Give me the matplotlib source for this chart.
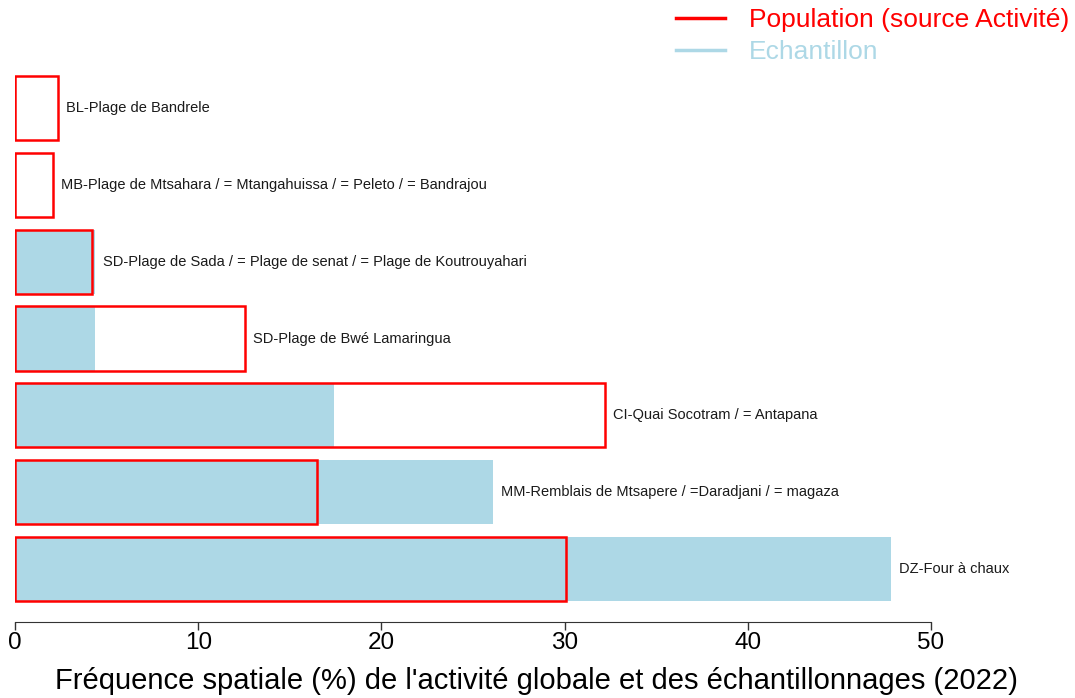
import matplotlib
matplotlib.use("Agg")
import matplotlib.pyplot as plt
from matplotlib.lines import Line2D

plt.rcParams['font.family'] = ['Liberation Sans', 'DejaVu Sans']

# Data (bottom to top)
sites = [
    "DZ-Four à chaux",
    "MM-Remblais de Mtsapere / =Daradjani / = magaza",
    "CI-Quai Socotram / = Antapana",
    "SD-Plage de Bwé Lamaringua",
    "SD-Plage de Sada / = Plage de senat / = Plage de Koutrouyahari",
    "MB-Plage de Mtsahara / = Mtangahuissa / = Peleto / = Bandrajou",
    "BL-Plage de Bandrele",
]
population = [30.1, 16.5, 32.2, 12.55, 4.2, 2.07, 2.35]
echantillon = [47.83, 26.09, 17.39, 4.35, 4.35, 0.0, 0.0]
xticks = [0, 10, 20, 30, 40, 50]
xlabel = "Fréquence spatiale (%) de l'activité globale et des échantillonnages (2022)"
legend_labels = ["Population (source Activité)", "Echantillon"]

RED = "#FF0000"
BLUE = "#ADD8E6"

W, H = 1075, 698
fig = plt.figure(figsize=(W / 100, H / 100), dpi=100)
ax = fig.add_axes([15 / W, 1 - 622 / H, (931 - 15) / W, (622 - 60) / H])

ypos = [0.7 + 1.2 * i for i in range(len(sites))]
ax.barh(ypos, echantillon, height=1.0, color=BLUE, edgecolor='none', zorder=2)
ax.barh(ypos, population, height=1.0, facecolor='none', edgecolor=RED,
        linewidth=1.8, zorder=3)

for y, p, e, s in zip(ypos, population, echantillon, sites):
    ax.text(max(p, e) + 0.45, y, s, va='center', ha='left', fontsize=10.5,
            color='#1a1a1a', zorder=4)

ax.set_xlim(0, 50)
ax.set_ylim(-0.128, 8.65)
for side in ['top', 'right', 'left']:
    ax.spines[side].set_visible(False)
ax.spines['bottom'].set_bounds(0, 50)
ax.spines['bottom'].set_color('#333333')
ax.set_yticks([])
ax.set_xticks(xticks)
ax.tick_params(axis='x', length=6, width=1, color='#333333', labelsize=17.5, pad=1.5)
fig.text(536 / W, 1 - 681 / H, xlabel, fontsize=21, ha='center', va='center')

handles = [Line2D([0], [0], color=RED, lw=2.5), Line2D([0], [0], color=BLUE, lw=2.5)]
leg = fig.legend(handles, legend_labels, loc='upper right',
                 bbox_to_anchor=(1069 / W, 1 - 8 / H), frameon=False,
                 fontsize=19, handlelength=1.85, handletextpad=0.9,
                 labelspacing=0.32, borderaxespad=0, borderpad=0)
for t, c in zip(leg.get_texts(), [RED, BLUE]):
    t.set_color(c)

fig.savefig("out.png", dpi=100, facecolor='white')
